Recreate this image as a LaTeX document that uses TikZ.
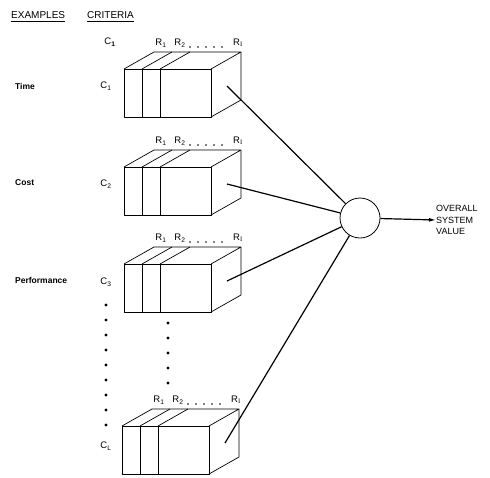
\documentclass[tikz,border=0pt]{standalone}
\usepackage{fontspec}
\setmainfont{Liberation Sans}
\newfontfamily\serifI{Liberation Serif}
\usetikzlibrary{arrows.meta}
\newcommand\critbox[3]{%
  \begin{scope}[shift={(#1,#2)}]
    \draw[boxline] (0,0) rectangle (87,48);
    \draw[boxline] (0,0) -- (30,-17) -- (117,-17) -- (87,0);
    \draw[boxline] (87,48) -- (117,31) -- (117,-17);
    \draw[boxline] (18,0) -- (18,48) (36,0) -- (36,48);
    \draw[boxline] (18,0) -- (48,-17) (36,0) -- (66,-17);
    \node[lbl] at (37,-26) {R\textsubscript{1}};
    \node[lbl] at (56,-26) {R\textsubscript{2}};
    \foreach \d in {66,74,...,98} \fill (\d,-22) circle (0.8pt);
    \node[lbl] at (114,-26) {R\textsubscript{\serifI I}};
    \coordinate (#3) at (103,17);
  \end{scope}}
\begin{document}
\begin{tikzpicture}[x=1pt,y=-1pt,
  boxline/.style={line width=0.7pt,line join=round},
  lbl/.style={font=\fontsize{9.5}{10}\selectfont,inner sep=0pt},
  ex/.style={font=\fontsize{8.5}{10}\bfseries,inner sep=0pt},
  head/.style={font=\fontsize{10}{11}\selectfont,inner sep=0pt},
  link/.style={line width=1.2pt},
  dot/.style={fill=black}]
\useasboundingbox (0,0) rectangle (490,477);

\node[head,anchor=west] (ex) at (11,15) {EXAMPLES};
\node[head,anchor=west] (cr) at (87,15) {CRITERIA};
\draw[line width=0.8pt] ([yshift=-3pt]ex.south west) -- ([yshift=-3pt]ex.south east);
\draw[line width=0.8pt] ([yshift=-3pt]cr.south west) -- ([yshift=-3pt]cr.south east);

\node[ex,anchor=west] (t1) at (15,86) {Time};
\node[ex,anchor=west] (t2) at (15,183) {Cost};
\node[ex,anchor=west] (t3) at (15,280) {Performance};

\node[lbl] (ctop) at (110,42) {C\textsubscript{\textbf{1}}};
\node[lbl] (c1) at (106,86) {C\textsubscript{1}};
\node[lbl] (c2) at (106,184) {C\textsubscript{2}};
\node[lbl] (c3) at (106,282) {C\textsubscript{3}};
\node[lbl] (cl) at (106,446) {C\textsubscript{L}};

\critbox{124}{69}{b1}
\critbox{124}{167}{b2}
\critbox{124}{264}{b3}
\critbox{122}{426}{b4}

\foreach \y in {305,320,...,425} \fill[dot] (106,\y) circle (1.6pt);
\foreach \y in {323,338,...,383} \fill[dot] (168,\y) circle (1.6pt);

\node[draw,circle,line width=0.8pt,minimum size=40pt,inner sep=0pt] (sum) at (360,218) {};
\node[lbl,font=\fontsize{9}{11.5}\selectfont,anchor=west,align=left] (out) at (436,220) {OVERALL\\SYSTEM\\VALUE};

\draw[link] (b1) -- (sum);
\draw[link] (b2) -- (sum);
\draw[link] (b3) -- (sum);
\draw[link] (b4) -- (sum);
\draw[link,-{Latex[length=7pt,width=4pt]}] (sum) -- (out.west);
\end{tikzpicture}
\end{document}
